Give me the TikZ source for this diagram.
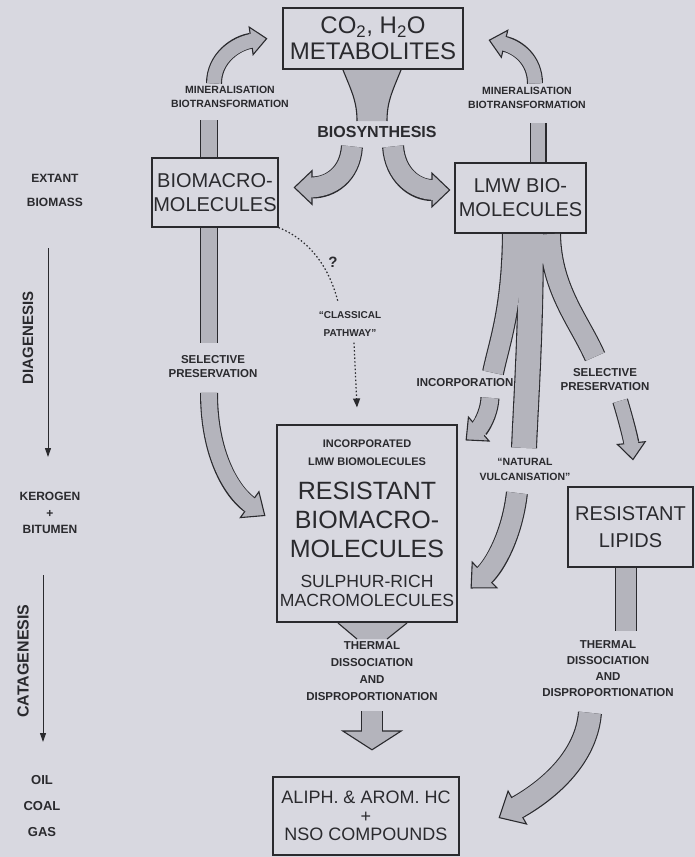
\documentclass[tikz,border=0pt]{standalone}
\usepackage{fontspec}
\setmainfont{Liberation Sans}
\usetikzlibrary{arrows.meta}

\definecolor{paper}{RGB}{216,216,224}
\definecolor{ink}{RGB}{42,42,46}
\definecolor{stipple}{RGB}{180,180,188}

\newcommand{\fs}[2]{\fontsize{#1}{#2}\selectfont}

\begin{document}
\begin{tikzpicture}[x=1pt, y=-1pt,
  box/.style={rectangle, draw=ink, line width=1.1pt, inner sep=0pt, align=center, text=ink},
  lbl/.style={inner sep=0pt, align=center, text=ink},
  sw/.store in=\shaftw, tw/.store in=\tipw, tl/.store in=\tipl,
  sw=18pt, tw=34pt, tl=18pt,
  fatout/.style={draw=ink, line width=\shaftw, shorten <=0.6pt, -{Triangle[width=\tipw, length=\tipl, line width=1.1pt, fill=stipple]}},
  fatin/.style={draw=stipple, line width=\shaftw-2.2pt, shorten <=0.6pt, shorten >=\tipl-3pt},
  stemout/.style={draw=ink, line width=\shaftw, shorten <=0.6pt},
  stemin/.style={draw=stipple, line width=\shaftw-2.2pt, shorten <=0.6pt},
  thinarrow/.style={draw=ink, line width=1pt, -{Triangle[length=9pt, width=6pt]}},
  dotline/.style={draw=ink, line width=1.2pt, dash pattern=on 1.5pt off 2.2pt}]

% Page
\useasboundingbox (0,0) rectangle (695,857);
\fill[paper] (0,0) rectangle (695,857);

% CO2, H2O box
\node (co2) [box, minimum width=180pt, minimum height=61pt, font=\fs{24}{26}] at (373,38.5) {CO\textsubscript{2}, H\textsubscript{2}O\\METABOLITES};

% Biomacromolecules and LMW biomolecules
\node (biomacro) [box, minimum width=126pt, minimum height=69pt, font=\fs{20}{24}] at (215,192.5) {BIOMACRO-\\MOLECULES};
\node (lmw) [box, minimum width=131pt, minimum height=70pt, font=\fs{20}{24}] at (520.5,198) {LMW BIO-\\MOLECULES};

% Resistant biomacromolecules box and its texts
\node (resistant) [box, minimum width=180pt, minimum height=197pt] at (367,523.5) {};
\node (incorporated) [lbl, font=\fs{11}{18}\bfseries] at (367,453) {INCORPORATED\\LMW BIOMOLECULES};
\node (resistant_text) [lbl, font=\fs{25}{29}] at (367,520) {RESISTANT\\BIOMACRO-\\MOLECULES};
\node (sulphur) [lbl, font=\fs{17.6}{19}] at (367,591) {SULPHUR-RICH\\MACROMOLECULES};

% Resistant lipids
\node (lipids) [box, minimum width=125pt, minimum height=80pt, font=\fs{20}{27}] at (630.5,527) {RESISTANT\\LIPIDS};

% Hydrocarbons
\node (hc) [box, minimum width=186pt, minimum height=78pt, font=\fs{18}{18.5}] at (366,816) {ALIPH. \& AROM. HC\\+\\NSO COMPOUNDS};

% Process labels
\node (min_left) [lbl, font=\fs{10.5}{14}\bfseries] at (230,97) {MINERALISATION\\BIOTRANSFORMATION};
\node (min_right) [lbl, font=\fs{10.5}{14}\bfseries] at (527,98) {MINERALISATION\\BIOTRANSFORMATION};
\node (biosynthesis) [lbl, font=\fs{16}{16}\bfseries] at (377,132) {BIOSYNTHESIS};
\node (sel_left) [lbl, font=\fs{11.5}{14}\bfseries] at (213,367) {SELECTIVE\\PRESERVATION};
\node (question) [lbl, font=\fs{15}{15}\bfseries] at (333,262) {?};
\node (classical) [lbl, font=\fs{10}{18}\bfseries] at (350,324) {“CLASSICAL\\PATHWAY”};
\node (incorporation) [lbl, font=\fs{11.5}{14}\bfseries] at (465,383) {INCORPORATION};
\node (vulcanisation) [lbl, font=\fs{10.5}{15}\bfseries] at (525,469) {“NATURAL\\VULCANISATION”};
\node (sel_right) [lbl, font=\fs{11.5}{14}\bfseries] at (605,380) {SELECTIVE\\PRESERVATION};
\node (thermal_mid) [lbl, font=\fs{11.5}{17}\bfseries] at (372,671) {THERMAL\\DISSOCIATION\\AND\\DISPROPORTIONATION};
\node (thermal_right) [lbl, font=\fs{11.5}{16}\bfseries] at (608,669) {THERMAL\\DISSOCIATION\\AND\\DISPROPORTIONATION};

% Left column
\node (extant) [lbl, font=\fs{12}{24}\bfseries] at (55,190) {EXTANT\\BIOMASS};
\node (diagenesis) [lbl, rotate=90, font=\fs{15}{15}\bfseries] at (28,338) {DIAGENESIS};
\node (kerogen) [lbl, font=\fs{12}{16.5}\bfseries] at (50,513) {KEROGEN\\+\\BITUMEN};
\node (catagenesis) [lbl, rotate=90, font=\fs{16}{16}\bfseries] at (23,661) {CATAGENESIS};
\node (products) [lbl, font=\fs{13}{26}\bfseries] at (42,806) {OIL\\COAL\\GAS};

\coordinate (dia_top) at (48,248);
\coordinate (dia_end) at (48,457);
\coordinate (cat_top) at (43,575);
\coordinate (cat_end) at (43,742);

% Funnel below CO2 box
\fill[stipple] (343,70) .. controls (352,92) and (357,102) .. (357,121) -- (387,121) .. controls (387,102) and (392,92) .. (401,70) -- cycle;
\draw[ink, line width=1.1pt] (343,70) .. controls (352,92) and (357,102) .. (357,121);
\draw[ink, line width=1.1pt] (387,121) .. controls (387,102) and (392,92) .. (401,70);

% Funnel below resistant box
\fill[stipple] (338,623) -- (407,623) -- (387,639) -- (357,639) -- cycle;
\draw[ink, line width=1.1pt] (338,623) -- (357,639) (407,623) -- (387,639);

% Arrows
\foreach \st in {stemout,stemin}
  \draw[sw=18pt, \st] ([xshift=-6pt]biomacro.north) -- ([xshift=-21pt,yshift=-12pt]min_left.south);
\foreach \st in {fatout,fatin}
  \draw[sw=16pt, tw=30pt, tl=17pt, \st] ([xshift=-16pt,yshift=2pt]min_left.north) .. controls (214,58) and (236,43) .. ([xshift=-15pt]co2.west);
\foreach \st in {stemout,stemin}
  \draw[sw=17pt, \st] ([xshift=17.5pt]lmw.north) -- ([xshift=11pt,yshift=-14pt]min_right.south);
\foreach \st in {fatout,fatin}
  \draw[sw=16pt, tw=30pt, tl=17pt, \st] ([xshift=8pt,yshift=3pt]min_right.north) .. controls (535,60) and (518,47) .. ([xshift=25pt,yshift=-1.5pt]co2.east);
\foreach \st in {fatout,fatin} {
  \draw[sw=22pt, tw=36pt, tl=19pt, \st] ([xshift=-25pt,yshift=-8pt]biosynthesis.south) .. controls (350,175) and (330,187.5) .. ([xshift=15pt,yshift=5pt]biomacro.east);
  \draw[sw=22pt, tw=36pt, tl=19pt, \st] ([xshift=16pt,yshift=-8pt]biosynthesis.south) .. controls (395,175) and (415,190) .. ([xshift=-4pt,yshift=8pt]lmw.west);
}
\foreach \st in {stemout,stemin}
  \draw[sw=18pt, \st] ([xshift=-6pt]biomacro.south) -- ([xshift=-4pt,yshift=13pt]sel_left.north);
\foreach \st in {fatout,fatin}
  \draw[sw=18pt, tw=34pt, tl=20pt, \st] ([xshift=-4pt,yshift=-14pt]sel_left.south) .. controls (209,455) and (232,492) .. ([xshift=-11pt,yshift=7.5pt]resistant.west);
\draw[dotline] (biomacro.south east) .. controls (305,238) and (328,262) .. ([xshift=-12pt,yshift=9.4pt]classical.north);
\draw[dotline, -{Triangle[length=9pt, width=7pt]}] ([xshift=4pt,yshift=-6pt]classical.south) -- ([xshift=-10pt,yshift=17pt]resistant.north);
\foreach \st in {stemout,stemin} {
  \draw[sw=22pt, \st] ([xshift=-7.5pt]lmw.south) .. controls (512,310) and (500,340) .. ([xshift=28pt,yshift=6pt]incorporation.north);
  \draw[sw=22pt, \st] ([xshift=29.5pt]lmw.south) .. controls (551,290) and (580,322) .. ([xshift=-10pt,yshift=12pt]sel_right.north);
  \draw[sw=26pt, \st] ([xshift=10.5pt]lmw.south) .. controls (531,330) and (526,400) .. ([xshift=-1pt,yshift=9.75pt]vulcanisation.north);
}
\foreach \st in {fatout,fatin}
  \draw[sw=19pt, tw=34pt, tl=18pt, \st] ([xshift=25pt,yshift=-10pt]incorporation.south) .. controls (489,415) and (480,428) .. ([xshift=8pt,yshift=-16pt]resistant.north east);
\foreach \st in {fatout,fatin}
  \draw[sw=22pt, tw=38pt, tl=20pt, \st] ([xshift=-8pt,yshift=-12pt]vulcanisation.south) .. controls (512,535) and (495,565) .. ([xshift=13pt,yshift=-65pt]resistant.east);
\foreach \st in {fatout,fatin}
  \draw[sw=16pt, tw=30pt, tl=18pt, \st] ([xshift=15pt,yshift=-9pt]sel_right.south) .. controls (626,420) and (631,440) .. ([xshift=2.5pt,yshift=26pt]lipids.north);
\foreach \st in {stemout,stemin}
  \draw[sw=22pt, \st] ([xshift=-4.5pt]lipids.south) -- ([xshift=18pt,yshift=9.4pt]thermal_right.north);
\foreach \st in {fatout,fatin}
  \draw[sw=24pt, tw=40pt, tl=22pt, \st] ([xshift=-18pt,yshift=-15pt]thermal_right.south) .. controls (586,760) and (545,792) .. ([xshift=39pt,yshift=-2pt]hc.east);
\foreach \st in {fatout,fatin}
  \draw[sw=22pt, tw=62pt, tl=20pt, \st] ([yshift=-10pt]thermal_mid.south) -- ([xshift=6pt,yshift=26pt]hc.north);
\draw[thinarrow] (dia_top) -- (dia_end);
\draw[thinarrow] (cat_top) -- (cat_end);

\end{tikzpicture}
\end{document}
